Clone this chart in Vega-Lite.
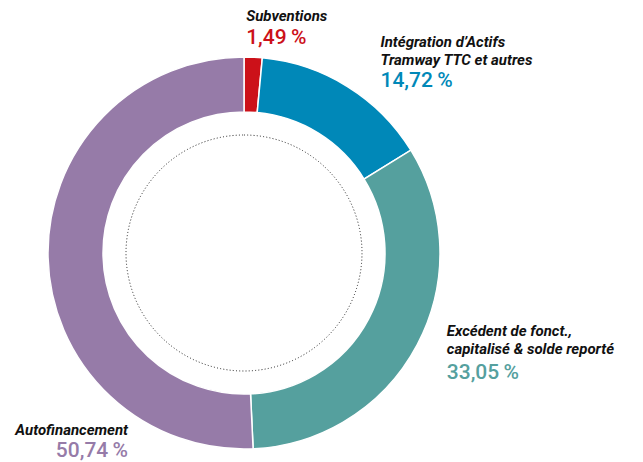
{
  "$schema": "https://vega.github.io/schema/vega-lite/v6.json",
  "width": 392,
  "height": 392,
  "autosize": {"type": "none"},
  "padding": {"left": 48, "top": 57, "right": 203, "bottom": 13},
  "background": "white",
  "config": {"view": {"stroke": null}, "font": "Roboto"},
  "data": {"values": [
    {"poste": "Subventions", "nom": "Subventions", "valeur": 1.49, "pct": "1,49\u2009%", "ordre": 1},
    {"poste": "Intégration", "nom": "Intégration d’Actifs\nTramway TTC et autres", "valeur": 14.72, "pct": "14,72\u2009%", "ordre": 2},
    {"poste": "Excédent", "nom": "Excédent de fonct.,\ncapitalisé & solde reporté", "valeur": 33.05, "pct": "33,05\u2009%", "ordre": 3},
    {"poste": "Autofinancement", "nom": "Autofinancement", "valeur": 50.74, "pct": "50,74\u2009%", "ordre": 4}
  ]},
  "layer": [
    {
      "mark": {"type": "arc", "radius": 196, "innerRadius": 141, "stroke": "white", "strokeWidth": 1.5},
      "encoding": {
        "theta": {"field": "valeur", "type": "quantitative", "stack": true},
        "order": {"field": "ordre", "type": "quantitative"},
        "color": {"field": "poste", "type": "nominal", "legend": null,
          "scale": {"domain": ["Subventions", "Intégration", "Excédent", "Autofinancement"], "range": ["#cc1119", "#0088b8", "#55a09e", "#967ba8"]}}
      }
    },
    {
      "data": {"values": [{"cercle": "intérieur"}]},
      "mark": {"type": "arc", "theta": 0, "theta2": 6.2832, "radius": 118, "filled": false, "stroke": "#222222", "strokeWidth": 1, "strokeDash": [1, 2.2]},
      "encoding": {}
    },
    {
      "mark": {"type": "text", "align": "left", "baseline": "alphabetic", "fontSize": 15, "fontStyle": "italic", "fontWeight": "bold", "color": "#111111", "dx": -7, "dy": -36},
      "encoding": {
        "theta": {"field": "valeur", "type": "quantitative", "stack": true},
        "order": {"field": "ordre", "type": "quantitative"},
        "radius": {"value": 196},
        "text": {"condition": {"test": "datum.poste === 'Subventions'", "field": "nom"}, "value": ""}
      }
    },
    {
      "mark": {"type": "text", "align": "left", "baseline": "alphabetic", "fontSize": 21, "fontWeight": 500, "color": "#cc1119", "dx": -7, "dy": -13.5},
      "encoding": {
        "theta": {"field": "valeur", "type": "quantitative", "stack": true},
        "order": {"field": "ordre", "type": "quantitative"},
        "radius": {"value": 196},
        "text": {"condition": {"test": "datum.poste === 'Subventions'", "field": "pct"}, "value": ""}
      }
    },
    {
      "mark": {"type": "text", "align": "left", "baseline": "alphabetic", "fontSize": 15, "fontStyle": "italic", "fontWeight": "bold", "color": "#111111", "lineBreak": "\n", "lineHeight": 18, "dx": 33, "dy": -40},
      "encoding": {
        "theta": {"field": "valeur", "type": "quantitative", "stack": true},
        "order": {"field": "ordre", "type": "quantitative"},
        "radius": {"value": 196},
        "text": {"condition": {"test": "datum.poste === 'Intégration'", "field": "nom"}, "value": ""}
      }
    },
    {
      "mark": {"type": "text", "align": "left", "baseline": "alphabetic", "fontSize": 21, "fontWeight": 500, "color": "#0088b8", "dx": 33, "dy": 0.5},
      "encoding": {
        "theta": {"field": "valeur", "type": "quantitative", "stack": true},
        "order": {"field": "ordre", "type": "quantitative"},
        "radius": {"value": 196},
        "text": {"condition": {"test": "datum.poste === 'Intégration'", "field": "pct"}, "value": ""}
      }
    },
    {
      "mark": {"type": "text", "align": "left", "baseline": "alphabetic", "fontSize": 15, "fontStyle": "italic", "fontWeight": "bold", "color": "#111111", "lineBreak": "\n", "lineHeight": 18, "dx": 29.5, "dy": -8.3},
      "encoding": {
        "theta": {"field": "valeur", "type": "quantitative", "stack": true},
        "order": {"field": "ordre", "type": "quantitative"},
        "radius": {"value": 196},
        "text": {"condition": {"test": "datum.poste === 'Excédent'", "field": "nom"}, "value": ""}
      }
    },
    {
      "mark": {"type": "text", "align": "left", "baseline": "alphabetic", "fontSize": 21, "fontWeight": 500, "color": "#55a09e", "dx": 29.5, "dy": 34},
      "encoding": {
        "theta": {"field": "valeur", "type": "quantitative", "stack": true},
        "order": {"field": "ordre", "type": "quantitative"},
        "radius": {"value": 196},
        "text": {"condition": {"test": "datum.poste === 'Excédent'", "field": "pct"}, "value": ""}
      }
    },
    {
      "mark": {"type": "text", "align": "right", "baseline": "alphabetic", "fontSize": 15, "fontStyle": "italic", "fontWeight": "bold", "color": "#111111", "dx": 80, "dy": 177.5},
      "encoding": {
        "theta": {"field": "valeur", "type": "quantitative", "stack": true},
        "order": {"field": "ordre", "type": "quantitative"},
        "radius": {"value": 196},
        "text": {"condition": {"test": "datum.poste === 'Autofinancement'", "field": "nom"}, "value": ""}
      }
    },
    {
      "mark": {"type": "text", "align": "right", "baseline": "alphabetic", "fontSize": 21, "fontWeight": 500, "color": "#967ba8", "dx": 80, "dy": 199.5},
      "encoding": {
        "theta": {"field": "valeur", "type": "quantitative", "stack": true},
        "order": {"field": "ordre", "type": "quantitative"},
        "radius": {"value": 196},
        "text": {"condition": {"test": "datum.poste === 'Autofinancement'", "field": "pct"}, "value": ""}
      }
    }
  ]
}
